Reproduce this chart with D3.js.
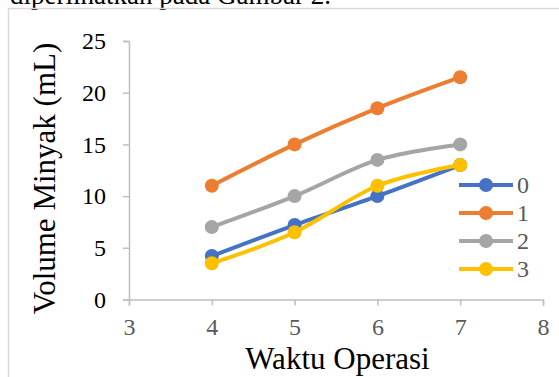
<!DOCTYPE html>
<html>
<head>
<meta charset="utf-8">
<script src="https://cdn.jsdelivr.net/npm/d3@7"></script>
<style>
  html, body { margin: 0; padding: 0; background: #fff; }
  svg { display: block; }
</style>
</head>
<body>
<svg id="chart" width="559" height="377"></svg>
<script>
// Operating time (x) and oil volume per run (y)
const waktu = [4, 5, 6, 7];
const seriesNames = ["0", "1", "2", "3"];
const volume0 = [4.2, 7.2, 10, 13];
const volume1 = [11, 15, 18.5, 21.5];
const volume2 = [7, 10, 13.5, 15];
const volume3 = [3.5, 6.5, 11, 13];
const xTicks = [3, 4, 5, 6, 7, 8];
const yTicks = [0, 5, 10, 15, 20, 25];
const colors = ["#4472C4", "#ED7D31", "#A5A5A5", "#FFC000"];

const allSeries = [volume0, volume1, volume2, volume3];

const svg = d3.select("#chart");
const serif = "'Liberation Serif', 'Times New Roman', serif";

// Caption line above the figure (mostly outside the frame)
svg.append("text")
  .attr("x", 10).attr("y", 4)
  .attr("font-family", serif).attr("font-size", 27)
  .attr("fill", "#000")
  .text("diperlihatkan pada Gambar 2.");

// Chart frame
svg.append("path")
  .attr("d", "M8.5,380 L8.5,8.5 L570,8.5")
  .attr("fill", "none").attr("stroke", "#d9d9d9").attr("stroke-width", 1.5);

const x = d3.scaleLinear().domain([3, 8]).range([129, 543]);
const y = d3.scaleLinear().domain([0, 25]).range([299.5, 41]);

const axisColor = "#bfbfbf";

// Y axis
const gy = svg.append("g").attr("transform", `translate(${x(3)},0)`)
  .call(d3.axisLeft(y).tickValues(yTicks).tickSize(6).tickPadding(17).tickFormat(d3.format("d")));
gy.select(".domain").attr("stroke", axisColor).attr("stroke-width", 1.5);
gy.selectAll(".tick line").attr("stroke", axisColor).attr("stroke-width", 1.5);
gy.selectAll(".tick text").attr("font-family", serif).attr("font-size", 24).attr("fill", "#000");

// X axis
const gx = svg.append("g").attr("transform", `translate(0,${y(0)})`)
  .call(d3.axisBottom(x).tickValues(xTicks).tickSize(6).tickPadding(12).tickFormat(d3.format("d")));
gx.select(".domain").attr("stroke", axisColor).attr("stroke-width", 1.5);
gx.selectAll(".tick line").attr("stroke", axisColor).attr("stroke-width", 1.5);
gx.selectAll(".tick text").attr("font-family", serif).attr("font-size", 24).attr("fill", "#595959");

// Axis titles
svg.append("text")
  .attr("transform", `translate(55,178.5) rotate(-90)`)
  .attr("text-anchor", "middle")
  .attr("font-family", serif).attr("font-size", 31).attr("fill", "#000")
  .text("Volume Minyak (mL)");

svg.append("text")
  .attr("x", 337.5).attr("y", 369)
  .attr("text-anchor", "middle")
  .attr("font-family", serif).attr("font-size", 31).attr("fill", "#000")
  .text("Waktu Operasi");

// Smoothed series lines with markers
const line = d3.line()
  .x((d, i) => x(waktu[i]))
  .y(d => y(d))
  .curve(d3.curveCardinal.tension(0));

allSeries.forEach((vals, si) => {
  const g = svg.append("g");
  g.append("path")
    .attr("d", line(vals))
    .attr("fill", "none")
    .attr("stroke", colors[si])
    .attr("stroke-width", 4)
    .attr("stroke-linejoin", "round");
  g.selectAll("circle").data(vals).enter().append("circle")
    .attr("cx", (d, i) => x(waktu[i]))
    .attr("cy", d => y(d))
    .attr("r", 7)
    .attr("fill", colors[si]);
});

// Legend
const legend = svg.append("g");
seriesNames.forEach((name, i) => {
  const ly = 185 + i * 28;
  legend.append("line")
    .attr("x1", 459).attr("x2", 513).attr("y1", ly).attr("y2", ly)
    .attr("stroke", colors[i]).attr("stroke-width", 4);
  legend.append("circle")
    .attr("cx", 486).attr("cy", ly).attr("r", 7).attr("fill", colors[i]);
  legend.append("text")
    .attr("x", 517).attr("y", ly).attr("dy", "0.35em")
    .attr("font-family", serif).attr("font-size", 24).attr("fill", "#595959")
    .text(name);
});
</script>
</body>
</html>
